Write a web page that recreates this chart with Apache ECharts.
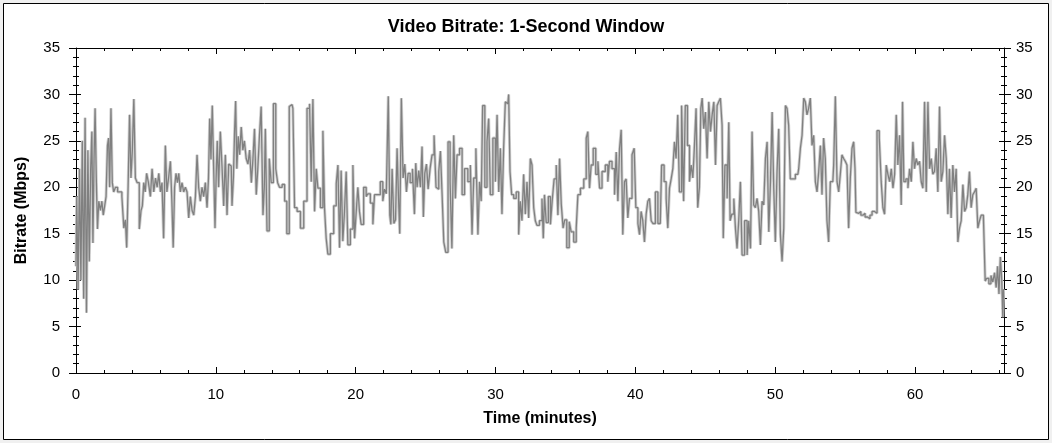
<!DOCTYPE html>
<html><head><meta charset="utf-8">
<script src="https://cdn.jsdelivr.net/npm/echarts@6/dist/echarts.min.js"></script>
<style>html,body{margin:0;padding:0;background:#f0f0f0}#c{width:1052px;height:443px}</style>
</head><body><div id="c"></div><script>
// ---- data ----
const minutes = [
0,0.1,0.2,0.3,0.4,0.5,0.6,0.7,0.8,0.9,
1.0,1.1,1.17,1.25,1.33,1.4,1.5,1.57,1.69,1.8,
1.9,2.0,2.1,2.2,2.3,2.36,2.45,2.55,2.64,2.75,
2.9,3.05,3.2,3.36,3.48,3.58,3.67,3.78,3.88,3.98,
4.08,4.19,4.3,4.45,4.6,4.7,4.79,4.9,5.0,5.1,
5.26,5.38,5.5,5.62,5.75,5.86,5.98,6.1,6.2,6.33,
6.45,6.55,6.69,6.81,6.9,7.0,7.1,7.2,7.3,7.4,
7.52,7.64,7.76,7.88,8.0,8.12,8.24,8.36,8.48,8.6,
8.71,8.83,8.95,9.07,9.19,9.31,9.43,9.52,9.6,9.7,
9.79,9.9,9.98,10.06,10.14,10.26,10.38,10.5,10.62,10.74,
10.86,10.98,11.1,11.21,
11.3,11.38,11.45,11.55,11.65,11.75,11.88,11.98,12.1,12.24,
12.35,12.48,12.6,12.7,12.83,12.95,13.05,13.17,13.31,13.43,
13.5,13.58,13.74,13.9,14.02,14.21,14.36,14.48,14.62,14.86,
14.98,15.17,15.33,15.45,15.57,15.69,15.93,16.17,16.4,16.64,
16.76,16.88,17.0,17.12,17.24,17.36,17.6,17.71,17.83,17.95,
18.07,18.31,18.55,18.67,18.79,18.9,19.02,19.14,19.26,19.38,
19.5,19.74,19.86,19.98,20.1,20.21,20.33,20.45,20.69,20.81,
20.93,21.17,21.29,21.4,21.64,21.88,22.0,22.12,22.26,
22.4,22.48,22.55,22.66,22.8,22.9,23.02,23.1,23.2,23.33,
23.45,23.57,23.69,23.81,23.98,24.14,24.26,24.33,24.45,24.57,
24.69,24.8,24.88,25.0,25.12,25.24,25.4,25.52,25.69,25.8,
25.88,26.0,26.12,26.24,26.36,26.52,26.69,26.81,26.95,27.07,
27.19,27.31,27.55,27.67,27.9,28.14,28.26,28.38,28.5,28.69,
28.79,28.93,29.02,29.14,29.33,29.45,29.57,29.69,29.93,30.05,
30.17,30.29,30.4,30.52,30.64,30.76,30.88,31.0,31.07,31.24,
31.36,31.6,31.71,31.83,31.95,32.07,32.19,32.31,32.43,32.55,
32.67,32.79,32.9,33.02,33.26,33.38,
33.45,33.55,33.7,33.85,34.0,34.1,34.28,34.4,34.52,34.64,
34.76,34.9,35.0,35.19,35.35,35.47,35.71,35.83,35.95,36.19,
36.43,36.54,36.66,36.78,36.9,37.07,37.26,37.38,37.5,37.73,
37.97,38.09,38.21,38.45,38.57,38.69,38.81,38.93,39.04,39.16,
39.28,39.4,39.52,39.64,39.88,39.95,40.12,40.24,40.35,40.47,
40.59,40.71,40.83,40.95,41.07,41.19,41.31,41.55,41.67,41.78,
41.97,42.14,42.26,42.38,42.5,42.62,42.74,42.85,42.97,43.09,
43.21,43.4,43.5,43.64,43.81,43.93,44.05,44.17,44.28,44.4,
44.52,44.64,
44.72,44.83,44.95,45.07,45.19,45.31,45.43,45.55,45.67,45.79,
45.9,46.02,46.14,46.26,46.31,46.5,46.62,46.74,46.81,46.98,
47.1,47.21,47.33,47.45,47.57,47.69,47.93,48.05,48.17,48.29,
48.4,48.52,48.64,48.76,48.88,49.0,49.12,49.24,49.36,49.48,
49.6,49.72,49.84,49.95,50.07,50.19,50.31,50.43,50.55,50.67,
50.79,50.9,51.02,51.14,51.26,51.38,51.5,51.62,51.74,51.86,
51.98,52.1,52.21,52.33,52.45,52.57,52.69,52.81,52.93,53.05,
53.17,53.29,53.4,53.52,53.64,53.76,53.88,54.0,54.12,54.24,
54.36,54.48,54.6,54.71,54.83,54.95,55.07,55.19,55.31,55.43,
55.55,55.67,
55.74,55.8,55.9,56.05,56.2,56.35,56.5,56.7,56.85,57.0,
57.2,57.36,57.52,57.64,57.76,57.88,58.0,58.12,58.24,58.36,
58.48,58.6,58.71,58.83,58.95,59.07,59.14,59.26,59.43,59.55,
59.67,59.79,59.9,60.02,60.14,60.26,60.38,60.5,60.62,60.74,
60.86,60.98,61.1,61.21,61.33,61.45,61.57,61.69,61.81,61.93,
62.05,62.17,62.29,62.4,62.52,62.64,62.76,62.88,63.0,63.12,
63.24,63.36,63.48,63.6,63.71,63.83,63.95,64.07,64.19,64.31,
64.43,64.55,64.67,64.79,64.98,65.05,65.2,65.35,65.5,65.62,
65.75,65.85,65.95,66.05,66.15,66.25,66.3,66.35
];
const mbps = [
11.5,19,9,22,10,25,8,27.5,6.5,24,
12,22,26,14,23,28.5,21,15.5,18.5,17.5,
18.5,17,18,19,24.5,25.3,20,28.5,20.5,19.5,
20,19.5,19.5,19,15.6,16.5,13.5,20,27.8,21,
24,29.5,21,20.5,15.5,17.5,18,20.5,19.5,21.5,
20.5,19,22,19.5,21,20,21.5,19.5,20.5,14.5,
24.5,19.5,21,22.8,18.5,13.5,20,21.5,20.5,21.5,
19.5,20.5,19.5,20,19.5,16.7,19,17.5,17,19,
23.5,20,18.5,20,19,20.5,17.8,21,27.4,23,
28.8,22,15.6,21,25,20,26,22.3,18,23.5,
17,22.5,22.3,18,
21,26,29.3,22,25.5,23.5,26.5,24,25,23.1,
22.5,24,20.5,23,26.3,19.2,22,25.3,28.7,17,
20,26.3,15.3,23.1,20.5,29,22,20.5,20,20.3,
18.5,15,28.7,28.9,28.5,17.8,17.4,15.6,18.5,28.5,
29,20.6,29.5,17.4,22,19.9,17.8,26.1,17.8,14.5,
12.8,15,18,20.4,22.4,13.5,21.8,14.2,17.4,21.7,
13.8,15.5,22.4,14.5,17.4,20,17.4,16,20,19,
19.3,18.3,16,19.2,19.2,20.6,18.5,19.8,19.3,
29.8,17,16,22,16.1,16.5,24.2,19,15,29.6,
21,22.5,19.5,21.5,20.5,22,17.1,22.6,20,21.8,
20,24.4,16.8,21.5,22.5,19.8,22,23.5,25.6,20,
19.8,21.7,23.9,19.2,14.1,13,24.9,20.6,13.4,25.6,
18.8,23.5,24.2,19.2,22,20.6,22.4,14.9,21,24.2,
14.9,20.6,18.5,28.8,20,24.9,27.4,19.2,25.3,20.6,
27.8,19.5,24.2,17.1,24.2,29.2,29,30,21.7,19.2,
18.8,19.5,14.9,18.5,16.4,21.4,17.1,20.6,16.7,23.1,
22.4,17.8,16.4,15.9,16.4,18.8,
14.5,19.2,16.2,19,16,18.5,20.9,22.4,17,23.1,
18.2,15.6,16.5,13.5,16.3,15.2,14.1,15.6,19.2,19.9,
20.9,25.3,26,19.9,22.4,24.2,21.4,22.8,19.9,21.7,
22.4,20.6,22.8,22,19.2,23.8,18.5,24.2,26.2,14.9,
20.6,20.9,16.7,18.8,23.5,24.2,17.8,16.1,14.9,17.4,
16.4,14.1,17.1,18.5,18.8,16.4,16.1,19.5,16.1,16.1,
22.4,20.6,18.8,15.6,19.9,20.9,22,24.9,23.1,27.8,
19.5,28.8,18.5,28.8,24.5,20.6,22.4,21,24.5,28.5,
17.8,20,
28.5,29.6,26.3,28.1,23.1,29.2,26,27.8,29.2,22.4,
28.8,29.2,29.6,26.7,14.5,22.4,18.8,27,16.4,17.1,
18.8,15.6,13.4,16.4,20.6,12.7,16.4,12.7,16.4,13.4,
26,18.1,17.8,18.8,17.4,13.8,18.5,18.1,23.1,24.9,
15.2,20.6,28.1,19.9,14.1,21.7,26.3,14.9,12,15.6,
28.8,28.5,26.7,20.9,20.9,20.9,21.4,21.4,22,24.2,
25.6,29.6,29.2,27.8,28.5,29.6,24.5,25.6,20.6,19.5,
21.7,24.5,19.2,25.3,23.1,16.4,14.1,20.6,20.6,22.4,
29.8,20.6,19.5,21.4,23.5,23.1,22.8,22.4,15.6,21,
24.2,24.9,
22,17.3,17.2,17.4,17,17.2,16.8,16.6,17,17.4,
17.2,26.1,25.3,20.6,17.8,17.1,22.4,21.4,20.6,22,
19.9,21.4,27.8,22.4,25.6,18.1,29.2,20.6,20.9,19.9,
22,20.6,24.9,22,23.1,22.4,22.8,20.6,19.9,29.2,
19.5,29.2,22,23.1,21.4,21.7,24.2,19.5,28.7,20.6,
21.7,25.6,23.1,17.1,22,16.7,22.4,19.5,22,14.1,
15.6,16.4,20.3,17.4,17.8,19.2,21.7,17.8,19.2,19.5,
19.9,15.6,16.4,17,17,9.9,10.2,9.6,10.5,9.8,
10.8,9.2,11.5,8.5,12.5,10,6,9
];
const xTickStep = 10, xMax = 66.36;   // x tick labels: 0,10,...,60
const yTickStep = 5,  yMax = 35;      // y tick labels: 0,5,...,35

// ---- chart ----
const FONT = '"Liberation Sans", Arial, sans-serif';
const n = Math.min(minutes.length, mbps.length);
const pts = [];
for (let i = 0; i < n; i++) pts.push([minutes[i], mbps[i]]);

const black = {color:'#000', width:1};
function xAx(pos, labels) {
  return {
    type:'value', position:pos, min:0, max:xMax, interval:xTickStep,
    axisLine:{show:true, onZero:false, lineStyle:black},
    axisTick:{show:true, inside:true, length:6, lineStyle:black},
    minorTick:{show:true, splitNumber:5, length:3, lineStyle:black},
    splitLine:{show:false},
    axisLabel:{show:labels, showMaxLabel:false, margin:14, fontSize:15, color:'#000', fontFamily:FONT},
    name: labels ? 'Time (minutes)' : '', nameLocation:'middle', nameGap:38,
    nameTextStyle:{fontWeight:'bold', fontSize:16, color:'#000', fontFamily:FONT}
  };
}
function yAx(pos, outer, labels, name) {
  return {
    type:'value', position:pos, min:0, max:yMax, interval:yTickStep,
    axisLine:{show:outer, onZero:false, lineStyle:black},
    axisTick:{show:true, inside:!outer, length: outer ? 7 : 5, lineStyle:black},
    minorTick:{show:true, splitNumber:5, length:3, lineStyle:black},
    splitLine:{show:false},
    axisLabel:{show:labels, margin: pos === 'left' ? 16 : 12, fontSize:15, color:'#000', fontFamily:FONT},
    name: name || '', nameLocation:'middle', nameGap:46,
    nameTextStyle:{fontWeight:'bold', fontSize:16, color:'#000', fontFamily:FONT}
  };
}

const chart = echarts.init(document.getElementById('c'), null, {renderer:'canvas'});
chart.setOption({
  animation:false,
  backgroundColor:'#f0f0f0',
  textStyle:{fontFamily:FONT},
  title:{text:'Video Bitrate: 1-Second Window', left:'center', top:13,
    textStyle:{fontFamily:FONT, fontSize:18, fontWeight:'bold', color:'#000'}},
  graphic:[{type:'rect', z:-100, silent:true,
    shape:{x:3.5, y:3.5, width:1045, height:436},
    style:{fill:'#ffffff', stroke:'#000', lineWidth:1}}],
  grid:{left:76, right:48, top:48, bottom:70, containLabel:false},
  xAxis:[xAx('bottom', true), xAx('top', false)],
  yAxis:[yAx('left', true, true, 'Bitrate (Mbps)'), yAx('left', false, false),
         yAx('right', true, true), yAx('right', false, false)],
  series:[
    {type:'line', data:pts, step:'middle', xAxisIndex:0, yAxisIndex:0, showSymbol:false, symbol:'none',
     lineStyle:{color:'#d0d0d0', width:3}, z:1, silent:true},
    {type:'line', data:pts, step:'middle', xAxisIndex:0, yAxisIndex:0, showSymbol:false, symbol:'none',
     lineStyle:{color:'#808080', width:1.3}, z:2, silent:true}
  ]
});
</script></body></html>
